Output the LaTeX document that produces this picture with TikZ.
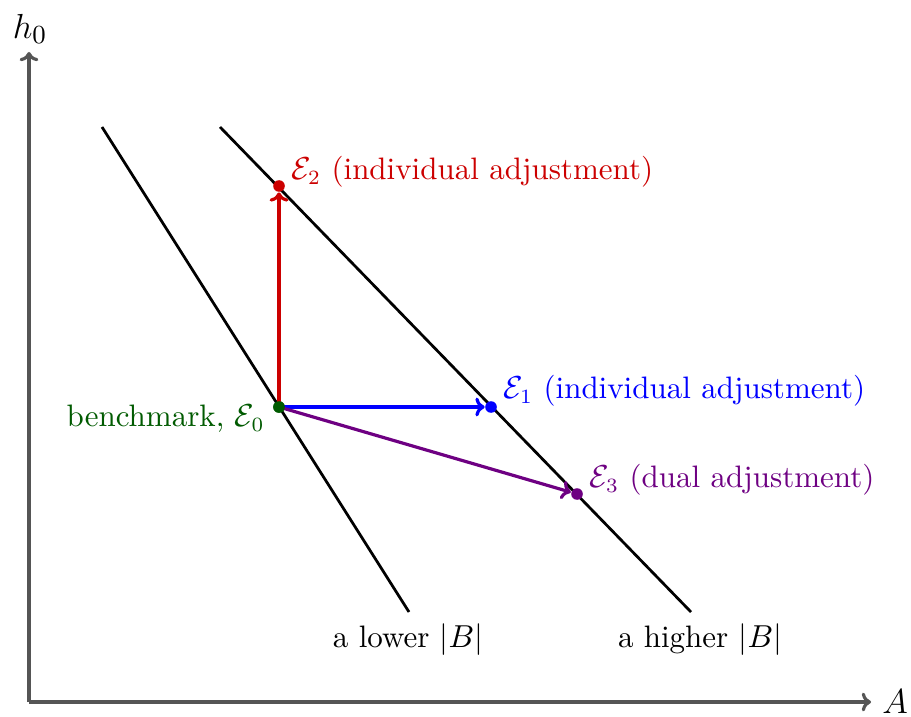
\documentclass[tikz,border=0pt]{standalone}
\usetikzlibrary{arrows.meta}
\definecolor{axgray}{RGB}{85,85,85}
\definecolor{myred}{RGB}{204,0,0}
\definecolor{myblue}{RGB}{0,0,255}
\definecolor{mypurple}{RGB}{110,0,130}
\definecolor{mygreen}{RGB}{0,90,0}
\begin{document}
\begin{tikzpicture}[x=0.345pt,y=-0.345pt,
  axis/.style={axgray,line width=1.1pt,-{To[length=3.2pt,width=6.5pt]}},
  budget/.style={black,line width=0.95pt},
  move/.style={line width=1.1pt,-{To[length=3.2pt,width=6.5pt]}},
  dot/.style={circle,fill,inner sep=0pt,minimum size=4pt},
  lbl/.style={inner sep=1pt,font=\fontsize{10.7pt}{13pt}\selectfont},
  biglbl/.style={inner sep=1pt,font=\fontsize{13pt}{15pt}\selectfont}]
\useasboundingbox (0,0) rectangle (911,717);
% axes
\coordinate (O) at (29,702);
\coordinate (Ytop) at (29,52);
\coordinate (Xend) at (871,702);
\draw[axis] (O) -- (Ytop);
\draw[axis] (O) -- (Xend);
\node[biglbl] (hlab) at (30,29) {$h_0$};
\node[biglbl] (alab) at (895,702) {$A$};
% budget lines
\coordinate (L1) at (102,127);
\coordinate (L2) at (409,612);
\coordinate (H1) at (220,127);
\coordinate (H2) at (691,612);
\draw[budget] (L1) -- (L2);
\draw[budget] (H1) -- (H2);
\node[lbl] (lowlab) at (408,640) {a lower $|B|$};
\node[lbl] (highlab) at (700,640) {a higher $|B|$};
% points
\node[dot,mygreen] (E0) at (279,407) {};
\node[dot,myred] (E2) at (279,186) {};
\node[dot,myblue] (E1) at (491,407) {};
\node[dot,mypurple] (E3) at (577,494) {};
% moves
\draw[move,myred] (E0.center) -- (E2);
\draw[move,myblue] (E0.center) -- (E1);
\draw[move,mypurple] (E0.center) -- (E3);
\node[dot,mygreen] at (E0) {};
% labels
\node[lbl,anchor=west,myred] (E2lab) at (288,172) {$\mathcal{E}_2$ (individual adjustment)};
\node[lbl,anchor=west,myblue] (E1lab) at (500,391) {$\mathcal{E}_1$ (individual adjustment)};
\node[lbl,anchor=west,mypurple] (E3lab) at (586,480) {$\mathcal{E}_3$ (dual adjustment)};
\node[lbl,anchor=east,mygreen] (E0lab) at (268,419) {benchmark, $\mathcal{E}_0$};
\end{tikzpicture}
\end{document}
